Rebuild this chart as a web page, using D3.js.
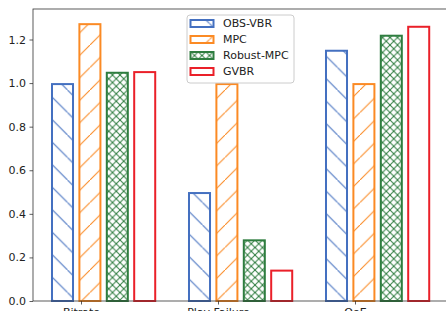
<!DOCTYPE html>
<html>
<head>
<meta charset="utf-8">
<script src="https://cdn.jsdelivr.net/npm/d3@7"></script>
<style>
  body { margin: 0; background: #fff; }
  svg { display: block; font-family: "DejaVu Sans", sans-serif; }
</style>
</head>
<body>
<div id="chart"></div>
<script>
const categories = ["Bitrate", "Play Failure", "QoE"];
const seriesNames = ["OBS-VBR", "MPC", "Robust-MPC", "GVBR"];
const obsVbr = [1.0, 0.5, 1.153];
const mpc = [1.275, 1.0, 1.0];
const robustMpc = [1.052, 0.283, 1.222];
const gvbr = [1.055, 0.144, 1.263];
const yTicks = [0.0, 0.2, 0.4, 0.6, 0.8, 1.0, 1.2];

const seriesValues = [obsVbr, mpc, robustMpc, gvbr];
const colors = ["#4470c0", "#fb8a24", "#2e7d3f", "#ea2029"];
const hatches = ["back", "fwd", "cross", "none"];

const W = 446, H = 311;
const plot = { left: 33, right: 448, top: 9, bottom: 301 };

const svg = d3.select("#chart").append("svg")
  .attr("width", W).attr("height", H);

// hatch patterns, anchored to the page like matplotlib's
const defs = svg.append("defs");
function addPattern(id, color, kind, size) {
  const p = defs.append("pattern")
    .attr("id", id)
    .attr("patternUnits", "userSpaceOnUse")
    .attr("width", size).attr("height", size);
  p.append("rect").attr("width", size).attr("height", size).attr("fill", "#fff");
  const lines = [];
  if (kind === "back" || kind === "cross") lines.push([-1, -1, size + 1, size + 1]);
  if (kind === "fwd" || kind === "cross") lines.push([-1, size + 1, size + 1, -1]);
  lines.forEach(l => {
    p.append("line")
      .attr("x1", l[0]).attr("y1", l[1]).attr("x2", l[2]).attr("y2", l[3])
      .attr("stroke", color).attr("stroke-width", 1);
  });
}
hatches.forEach((h, j) => {
  if (h === "none") return;
  addPattern("hatch" + j, colors[j], h, h === "cross" ? 7.5 : 22.5);
});
function fillFor(j) { return hatches[j] === "none" ? "#fff" : "url(#hatch" + j + ")"; }

const x = d3.scaleLinear()
  .domain([(plot.left - 81) / 137, (plot.right - 81) / 137])
  .range([plot.left, plot.right]);
const y = d3.scaleLinear().domain([0, 1.34]).range([plot.bottom, plot.top]);

const barStep = 0.2, barWidth = 0.168, firstOffset = -0.135;

// bars
const groups = svg.selectAll("g.series")
  .data(seriesValues)
  .enter().append("g")
  .attr("class", "series");

groups.each(function (vals, j) {
  d3.select(this).selectAll("rect")
    .data(vals)
    .enter().append("rect")
    .attr("x", (d, i) => x(i + firstOffset + j * barStep - barWidth / 2) + 1)
    .attr("width", x(barWidth) - x(0) - 2)
    .attr("y", d => y(d) + 1)
    .attr("height", d => y(0) - y(d) - 1)
    .attr("fill", fillFor(j))
    .attr("stroke", colors[j])
    .attr("stroke-width", 2);
});

// axes
const axisColor = "#333";
const yAxis = svg.append("g")
  .attr("transform", `translate(${plot.left},0)`)
  .call(d3.axisLeft(y).tickValues(yTicks).tickFormat(d3.format(".1f")).tickSize(3.5).tickPadding(3.5));
const xAxis = svg.append("g")
  .attr("transform", `translate(0,${plot.bottom})`)
  .call(d3.axisBottom(x).tickValues(d3.range(categories.length)).tickFormat(i => categories[i]).tickSize(3.5).tickPadding(3.5));

[xAxis, yAxis].forEach(a => {
  a.select(".domain").remove();
  a.selectAll("line").attr("stroke", axisColor).attr("stroke-width", 0.8);
  a.selectAll("text").attr("fill", "#222").style("font-size", "11px")
    .style("font-family", "DejaVu Sans, sans-serif");
});

// spines
svg.append("rect")
  .attr("x", plot.left).attr("y", plot.top)
  .attr("width", plot.right - plot.left).attr("height", plot.bottom - plot.top)
  .attr("fill", "none").attr("stroke", axisColor).attr("stroke-width", 0.8);

// legend
const legend = svg.append("g").attr("transform", "translate(187,15)");
legend.append("rect")
  .attr("x", 0).attr("y", 0).attr("width", 107).attr("height", 68)
  .attr("rx", 3)
  .attr("fill", "#fff").attr("fill-opacity", 0.8)
  .attr("stroke", "#ccc").attr("stroke-width", 1);

const items = legend.selectAll("g.item")
  .data(seriesNames)
  .enter().append("g")
  .attr("class", "item")
  .attr("transform", (d, i) => `translate(0,${8.5 + i * 16})`);

items.append("rect")
  .attr("x", 3.5).attr("y", -3.5)
  .attr("width", 23).attr("height", 7)
  .attr("fill", (d, j) => fillFor(j))
  .attr("stroke", (d, j) => colors[j])
  .attr("stroke-width", 2);

items.append("text")
  .attr("x", 36).attr("y", 0).attr("dy", "0.36em")
  .attr("fill", "#222")
  .style("font-size", "11px")
  .text(d => d);
</script>
</body>
</html>
